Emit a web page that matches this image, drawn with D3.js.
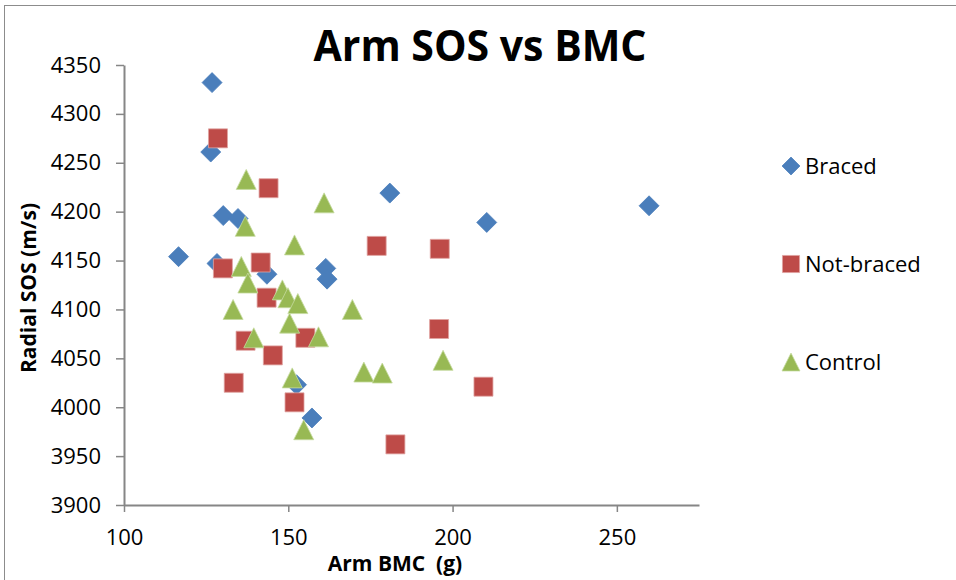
<!DOCTYPE html>
<html>
<head>
<meta charset="utf-8">
<script src="https://cdn.jsdelivr.net/npm/d3@7"></script>
<style>
  body { margin: 0; background: #fff; }
  svg { display: block; font-family: "Open Sans", sans-serif; }
</style>
</head>
<body>
<div id="chart"></div>
<script>
// values
const bracedBmc = [126.8, 126.4, 130.2, 134.7, 116.6, 128.3, 143.5, 161.4, 161.8, 152.5, 157.2, 180.9, 210.4, 259.8];
const bracedSos = [4332, 4261, 4196, 4193, 4154, 4147, 4136, 4142, 4131, 4023, 3989, 4219, 4189, 4206];

const notBracedBmc = [128.6, 144.0, 130.1, 141.6, 143.4, 137.0, 155.2, 145.3, 133.4, 151.9, 176.9, 196.1, 195.9, 182.6, 209.4];
const notBracedSos = [4275, 4224, 4142, 4148, 4112, 4068, 4071, 4053, 4025, 4005, 4165, 4162, 4080, 3962, 4021];

const controlBmc = [137.2, 136.9, 151.9, 135.7, 137.7, 148.2, 149.9, 152.9, 133.2, 169.5, 150.4, 139.5, 159.2, 151.2, 154.7, 173.0, 178.6, 197.1, 160.9];
const controlSos = [4233, 4185, 4166, 4144, 4127, 4120, 4112, 4106, 4100, 4100, 4086, 4071, 4072, 4030, 3977, 4036, 4035, 4048, 4209];

const xTicks = [100, 150, 200, 250];
const yTicks = [3900, 3950, 4000, 4050, 4100, 4150, 4200, 4250, 4300, 4350];

const seriesNames = ['Braced', 'Not-braced', 'Control'];

const width = 956;
const height = 580;
const margin = { top: 65, right: 257, bottom: 75, left: 124 };

const shapes = {
  diamond: 'M0,-10L10,0L0,10L-10,0Z',
  square: 'M-9.5,-9.5H9.5V9.5H-9.5Z',
  triangle: 'M0,-10L10,10H-10Z'
};

const series = [
  { name: seriesNames[0], x: bracedBmc, y: bracedSos, shape: 'diamond', fill: '#4a7ebb', stroke: '#4a7ebb' },
  { name: seriesNames[1], x: notBracedBmc, y: notBracedSos, shape: 'square', fill: '#be4b48', stroke: '#e0a3a1' },
  { name: seriesNames[2], x: controlBmc, y: controlSos, shape: 'triangle', fill: '#98b954', stroke: '#c5dba0' }
];

const svg = d3.select('#chart')
  .append('svg')
  .attr('width', width)
  .attr('height', height);

// chart area border (only top and left fall inside the picture)
svg.append('rect')
  .attr('x', 4.5).attr('y', 5.5)
  .attr('width', 1000).attr('height', 1000)
  .attr('fill', 'none')
  .attr('stroke', '#8c8c8c')
  .attr('stroke-width', 1);

const x = d3.scaleLinear()
  .domain([100, 275])
  .range([margin.left, width - margin.right]);

const y = d3.scaleLinear()
  .domain([3900, 4350])
  .range([height - margin.bottom, margin.top]);

function xAxis(g) {
  g.attr('transform', `translate(0,${height - margin.bottom})`)
    .call(d3.axisBottom(x).tickValues(xTicks).tickFormat(d3.format('d')).tickSize(7).tickPadding(17).tickSizeOuter(0))
    .attr('font-size', '22px')
    .attr('font-family', '"Open Sans", sans-serif');
}

function yAxis(g) {
  g.attr('transform', `translate(${margin.left},0)`)
    .call(d3.axisLeft(y).tickValues(yTicks).tickFormat(d3.format('d')).tickSize(8).tickPadding(15).tickSizeOuter(0))
    .attr('font-size', '22px')
    .attr('font-family', '"Open Sans", sans-serif');
}

svg.append('g').call(xAxis);
svg.append('g').call(yAxis);

svg.selectAll('.domain').attr('stroke', '#868686').attr('stroke-width', 2);
svg.selectAll('.tick line').attr('stroke', '#868686').attr('stroke-width', 1.5);
svg.selectAll('.tick text').attr('fill', '#000');

// points
series.forEach(s => {
  svg.append('g')
    .selectAll('path')
    .data(d3.range(s.x.length))
    .join('path')
    .attr('d', shapes[s.shape])
    .attr('transform', i => `translate(${x(s.x[i])},${y(s.y[i])})`)
    .attr('fill', s.fill)
    .attr('stroke', s.stroke)
    .attr('stroke-width', 0.8);
});

// title
svg.append('text')
  .attr('x', 480).attr('y', 61)
  .attr('text-anchor', 'middle')
  .attr('font-size', '43px')
  .attr('font-weight', 'bold')
  .attr('textLength', 333)
  .attr('lengthAdjust', 'spacingAndGlyphs')
  .text('Arm SOS vs BMC');

// axis titles
svg.append('text')
  .attr('x', 395).attr('y', 571)
  .attr('text-anchor', 'middle')
  .attr('font-size', '21px')
  .attr('font-weight', 'bold')
  .style('white-space', 'pre')
  .text('Arm BMC  (g)');

svg.append('text')
  .attr('transform', 'translate(36,288) rotate(-90)')
  .attr('text-anchor', 'middle')
  .attr('font-size', '21px')
  .attr('font-weight', 'bold')
  .text('Radial SOS (m/s)');

// legend
const legend = svg.append('g')
  .selectAll('g')
  .data(series)
  .join('g')
  .attr('transform', (d, i) => `translate(791,${166 + i * 98})`);

legend.append('path')
  .attr('d', d => shapes[d.shape])
  .attr('transform', 'scale(0.9)')
  .attr('fill', d => d.fill)
  .attr('stroke', d => d.stroke)
  .attr('stroke-width', 0.8);

legend.append('text')
  .attr('x', 14).attr('y', 8)
  .attr('font-size', '22px')
  .text(d => d.name);
</script>
</body>
</html>
